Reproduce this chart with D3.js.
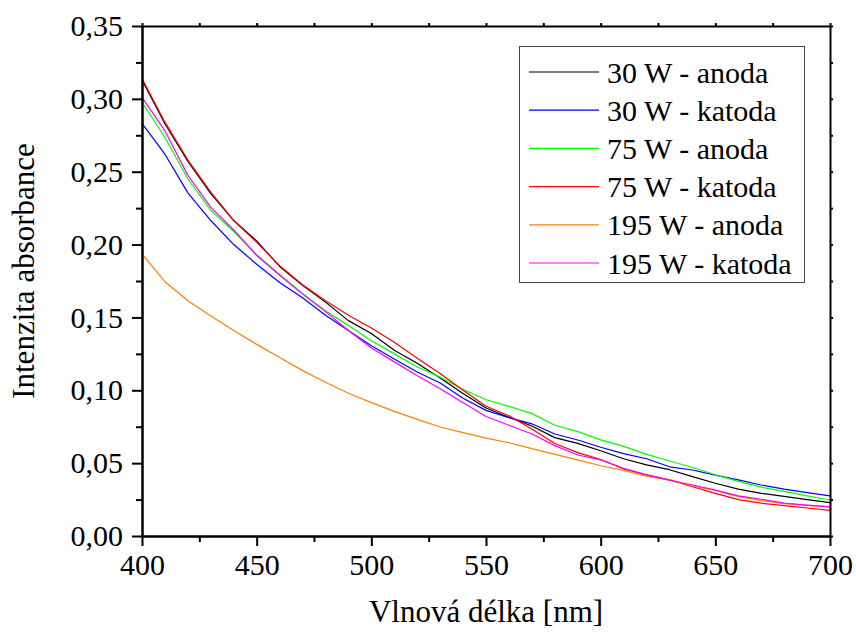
<!DOCTYPE html>
<html>
<head>
<meta charset="utf-8">
<script src="https://cdn.jsdelivr.net/npm/d3@7"></script>
<style>
  body { margin: 0; background: #fff; }
</style>
</head>
<body>
<svg id="chart" width="856" height="634"></svg>
<script>
// Wavelengths [nm] at which the spectra are sampled
const wavelength = [400, 410, 420, 430, 440, 450, 460, 470, 480, 490, 500,
  510, 520, 530, 540, 550, 560, 570, 580, 590, 600,
  610, 620, 630, 640, 650, 660, 670, 680, 690, 700];

// Absorbance spectra
const w30anoda = [0.313, 0.283, 0.257, 0.235, 0.2165, 0.2025, 0.185, 0.172, 0.1605, 0.1478, 0.139,
  0.1275, 0.1185, 0.1085, 0.0978, 0.0878, 0.0815, 0.0755, 0.0675, 0.0636, 0.0585,
  0.053, 0.0488, 0.0455, 0.0407, 0.0362, 0.0322, 0.0293, 0.0272, 0.025, 0.0229];
const w30katoda = [0.2832, 0.262, 0.2355, 0.2165, 0.2, 0.1865, 0.174, 0.1635, 0.1515, 0.141, 0.1305,
  0.1215, 0.1125, 0.105, 0.0945, 0.0862, 0.0812, 0.077, 0.07, 0.0659, 0.0609,
  0.0565, 0.053, 0.0475, 0.0453, 0.0418, 0.0385, 0.035, 0.0322, 0.0298, 0.0276];
const w75anoda = [0.2977, 0.2735, 0.245, 0.2235, 0.209, 0.193, 0.1795, 0.1665, 0.1545, 0.1445, 0.134,
  0.125, 0.116, 0.109, 0.1005, 0.0935, 0.089, 0.084, 0.076, 0.0716, 0.066,
  0.0615, 0.056, 0.0515, 0.047, 0.042, 0.0375, 0.0335, 0.0306, 0.0275, 0.0247];
const w75katoda = [0.314, 0.284, 0.258, 0.236, 0.2165, 0.2015, 0.1855, 0.1725, 0.1615, 0.1515, 0.1428,
  0.133, 0.122, 0.1115, 0.1, 0.089, 0.0825, 0.0735, 0.0635, 0.0572, 0.0525,
  0.046, 0.042, 0.0385, 0.0338, 0.0293, 0.025, 0.0225, 0.0208, 0.0192, 0.0176];
const w195anoda = [0.1935, 0.1745, 0.1615, 0.151, 0.141, 0.1315, 0.1225, 0.1135, 0.1055, 0.098, 0.0915,
  0.0855, 0.08, 0.0748, 0.071, 0.0672, 0.064, 0.06, 0.056, 0.0522, 0.0482,
  0.045, 0.041, 0.0383, 0.0343, 0.0313, 0.027, 0.0243, 0.0222, 0.021, 0.02];
const w195katoda = [0.301, 0.278, 0.2475, 0.2255, 0.21, 0.1925, 0.179, 0.166, 0.154, 0.141, 0.129,
  0.1195, 0.11, 0.101, 0.0915, 0.082, 0.076, 0.07, 0.062, 0.0556, 0.0522,
  0.0465, 0.042, 0.0383, 0.035, 0.0315, 0.0275, 0.0252, 0.0226, 0.0212, 0.02];

const seriesNames = ["30 W - anoda", "30 W - katoda", "75 W - anoda", "75 W - katoda", "195 W - anoda", "195 W - katoda"];
const seriesValues = [w30anoda, w30katoda, w75anoda, w75katoda, w195anoda, w195katoda];
const seriesColors = ["#000000", "#0000ff", "#00ff00", "#ff0000", "#ff8000", "#ff00ff"];

// Axis ticks
const xMajorTicks = [400, 450, 500, 550, 600, 650, 700];
const xMinorTicks = [425, 475, 525, 575, 625, 675];
const yMajorTicks = [0, 0.05, 0.10, 0.15, 0.20, 0.25, 0.30, 0.35];
const yMinorTicks = [0.025, 0.075, 0.125, 0.175, 0.225, 0.275, 0.325];

const fontFace = "'Times New Roman'";

const svg = d3.select("#chart");
const plot = { left: 142, right: 830, top: 26, bottom: 536 };

const x = d3.scaleLinear().domain([400, 700]).range([plot.left, plot.right]);
const y = d3.scaleLinear().domain([0, 0.35]).range([plot.bottom, plot.top]);

const czLocale = d3.formatLocale({ decimal: ",", thousands: " ", grouping: [3], currency: ["", " Kč"] });
const yFmt = czLocale.format(".2f");

// Spectra
const line = d3.line()
  .x((d, i) => x(wavelength[i]))
  .y(d => y(d));

svg.append("g").selectAll("path")
  .data(seriesValues)
  .join("path")
  .attr("d", d => line(d))
  .attr("fill", "none")
  .attr("stroke", (d, i) => seriesColors[i])
  .attr("stroke-width", 1.2)
  .attr("stroke-linejoin", "round");

// Axes
function styleAxis(g, width) {
  g.attr("font-family", null).attr("font-size", null);
  g.select(".domain").attr("stroke-width", width).attr("stroke", "#000");
  g.selectAll(".tick line").attr("stroke-width", width).attr("stroke", "#000");
  g.selectAll("text")
    .attr("fill", "#000")
    .attr("font-family", fontFace)
    .attr("font-size", 30);
}

// bottom
svg.append("g")
  .attr("transform", `translate(0,${plot.bottom})`)
  .call(d3.axisBottom(x).tickValues(xMinorTicks).tickSize(6).tickSizeOuter(0).tickFormat(""))
  .call(g => styleAxis(g, 2));
svg.append("g")
  .attr("transform", `translate(0,${plot.bottom})`)
  .call(d3.axisBottom(x).tickValues(xMajorTicks).tickSize(10).tickSizeOuter(0).tickPadding(8))
  .call(g => styleAxis(g, 2));

// left
svg.append("g")
  .attr("transform", `translate(${plot.left},0)`)
  .call(d3.axisLeft(y).tickValues(yMinorTicks).tickSize(6).tickSizeOuter(0).tickFormat(""))
  .call(g => styleAxis(g, 2));
svg.append("g")
  .attr("transform", `translate(${plot.left},0)`)
  .call(d3.axisLeft(y).tickValues(yMajorTicks).tickSize(10).tickSizeOuter(0).tickPadding(9).tickFormat(yFmt))
  .call(g => styleAxis(g, 2));

// top
svg.append("g")
  .attr("transform", `translate(0,${plot.top})`)
  .call(d3.axisTop(x).tickValues(xMajorTicks.concat(xMinorTicks)).tickSize(3).tickSizeOuter(0).tickFormat(""))
  .call(g => styleAxis(g, 2));

// right
svg.append("g")
  .attr("transform", `translate(${plot.right},0)`)
  .call(d3.axisRight(y).tickValues(yMajorTicks.concat(yMinorTicks)).tickSize(3).tickSizeOuter(0).tickFormat(""))
  .call(g => styleAxis(g, 2));

// Axis titles
svg.append("text")
  .attr("x", (plot.left + plot.right) / 2)
  .attr("y", 622)
  .attr("text-anchor", "middle")
  .attr("font-family", fontFace)
  .attr("font-size", 31)
  .text("Vlnová délka [nm]");

svg.append("text")
  .attr("transform", `translate(34,${271}) rotate(-90)`)
  .attr("text-anchor", "middle")
  .attr("font-family", fontFace)
  .attr("font-size", 31)
  .text("Intenzita absorbance");

// Legend
const legend = svg.append("g");
legend.append("rect")
  .attr("x", 519.5).attr("y", 46.5)
  .attr("width", 285).attr("height", 236)
  .attr("fill", "#fff")
  .attr("stroke", "#444")
  .attr("stroke-width", 1);

const rowY = d3.scalePoint().domain(seriesNames).range([72, 263]);
const rows = legend.selectAll("g.row")
  .data(seriesNames)
  .join("g")
  .attr("class", "row")
  .attr("transform", d => `translate(0,${rowY(d)})`);
rows.append("line")
  .attr("x1", 529).attr("x2", 599)
  .attr("stroke", (d, i) => seriesColors[i])
  .attr("stroke-width", 1.2);
rows.append("text")
  .attr("x", 607)
  .attr("y", 10.5)
  .attr("font-family", fontFace)
  .attr("font-size", 30)
  .text(d => d);
</script>
</body>
</html>
